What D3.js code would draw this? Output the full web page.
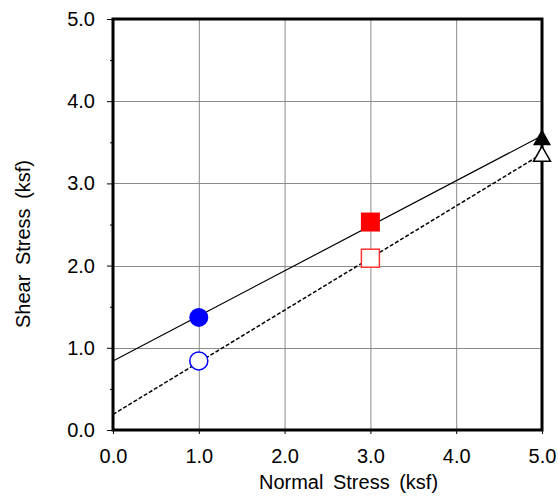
<!DOCTYPE html>
<html><head><meta charset="utf-8">
<script src="https://cdn.jsdelivr.net/npm/d3@7"></script>
<style>
body{margin:0;background:#fff;}
text{font-family:"Liberation Sans",Arial,sans-serif;fill:#000;}
</style></head>
<body><svg id="c" width="558" height="496"></svg>
<script>
// data
const xTicks = [0, 1, 2, 3, 4, 5];
const yTicks = [0, 1, 2, 3, 4, 5];
const yMinorTicks = [0.5, 1.5, 2.5, 3.5, 4.5];
const peakPoints = [ {x:1, y:1.37, shape:"circle", color:"#0000ff"}, {x:3, y:2.53, shape:"square", color:"#ff0000"}, {x:5, y:3.56, shape:"triangle", color:"#000"} ];
const residualPoints = [ {x:1, y:0.84, shape:"circle", color:"#0000ff"}, {x:3, y:2.09, shape:"square", color:"#ff3333"}, {x:5, y:3.36, shape:"triangle", color:"#000"} ];
const peakLine = [ {x:0, y:0.84}, {x:5, y:3.58} ];
const residualLine = [ {x:0, y:0.19}, {x:5, y:3.36} ];

const svg = d3.select("#c");
const L=113, R=542, T=19, B=430;
const x = d3.scaleLinear().domain([0,5]).range([L,R]);
const y = d3.scaleLinear().domain([0,5]).range([B,T]);

// grid
svg.append("g").selectAll("line").data(xTicks.slice(1,-1)).join("line")
  .attr("x1",d=>x(d)+0.5).attr("x2",d=>x(d)+0.5).attr("y1",T).attr("y2",B)
  .attr("stroke","#8a8a8a").attr("stroke-width",1);
svg.append("g").selectAll("line").data(yTicks.slice(1,-1)).join("line")
  .attr("y1",d=>Math.round(y(d))+0.5).attr("y2",d=>Math.round(y(d))+0.5).attr("x1",L).attr("x2",R)
  .attr("stroke","#8a8a8a").attr("stroke-width",1);

// axes
const fmt = d3.format(".1f");
const gy = svg.append("g").attr("transform",`translate(${L},0)`)
  .call(d3.axisLeft(y).tickValues(yTicks).tickFormat(fmt).tickSize(6).tickPadding(12));
const gym = svg.append("g").attr("transform",`translate(${L},0)`)
  .call(d3.axisLeft(y).tickValues(yMinorTicks).tickFormat("").tickSize(3));
const gx = svg.append("g").attr("transform",`translate(0,${B})`)
  .call(d3.axisBottom(x).tickValues(xTicks).tickFormat(fmt).tickSize(4).tickPadding(15));
[gy,gym,gx].forEach(g=>{g.select(".domain").remove(); g.selectAll("line").attr("stroke","#000");});
gy.selectAll("text").attr("font-size","20px").attr("font-family","Liberation Sans, Arial, sans-serif").attr("fill","#000");
gx.selectAll("text").attr("font-size","20px").attr("font-family","Liberation Sans, Arial, sans-serif").attr("fill","#000");

// frame
svg.append("rect").attr("x",L).attr("y",T).attr("width",R-L).attr("height",B-T)
  .attr("fill","none").attr("stroke","#000").attr("stroke-width",3);

// lines
const line = d3.line().x(d=>x(d.x)).y(d=>y(d.y));
svg.append("path").datum(peakLine).attr("d",line).attr("fill","none").attr("stroke","#000").attr("stroke-width",1.2);
svg.append("path").datum(residualLine).attr("d",line).attr("fill","none").attr("stroke","#000").attr("stroke-width",1.5).attr("stroke-dasharray","4,2");

// markers
function drawMarkers(data, filled){
  const g = svg.append("g");
  data.forEach(d=>{
    const cx=x(d.x), cy=y(d.y);
    let m;
    if(d.shape==="circle"){
      m = g.append("circle").attr("cx",cx).attr("cy",cy).attr("r",filled?9.5:9);
    } else if(d.shape==="square"){
      const s = filled?19:18;
      m = g.append("rect").attr("x",cx-s/2).attr("y",cy-s/2).attr("width",s).attr("height",s);
    } else {
      const w = filled?18:17, h = filled?16:15;
      m = g.append("path").attr("d",`M${cx},${cy-h/2}L${cx+w/2},${cy+h/2}L${cx-w/2},${cy+h/2}Z`);
    }
    if(filled) m.attr("fill",d.color).attr("stroke","none");
    else m.attr("fill","#fff").attr("stroke",d.color).attr("stroke-width",1.5);
  });
}
drawMarkers(residualPoints,false);
drawMarkers(peakPoints,true);

// titles
svg.append("text").attr("x",(L+R)/2+21).attr("y",489).attr("text-anchor","middle")
  .attr("font-size","20px").attr("word-spacing","4px").text("Normal Stress (ksf)");
svg.append("text").attr("transform","translate(30,244) rotate(-90)").attr("text-anchor","middle")
  .attr("font-size","20px").attr("word-spacing","4px").text("Shear Stress (ksf)");
</script></body></html>
